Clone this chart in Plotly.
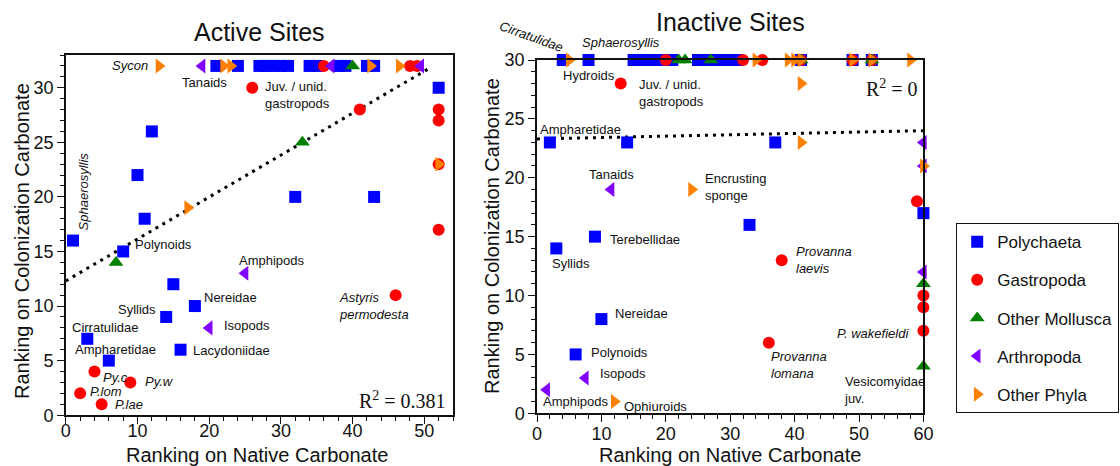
import plotly.graph_objects as go

W, H = 1120, 466
FONT = "Arial, Liberation Sans, Helvetica, sans-serif"
SERIF = "Times New Roman, Liberation Serif, serif"
INK = "#111111"

GROUPS = ["Polychaeta", "Gastropoda", "Other Mollusca", "Arthropoda", "Other Phyla"]

# ---- Active sites: rank on native carbonate (x) vs colonization carbonate (y)
active_polychaeta_x = [21, 24, 27, 28, 29, 30, 31, 34, 35, 38, 39, 42, 43,
                       52, 12, 10, 11, 1, 8, 32, 43, 15, 18, 14, 3, 16, 6]
active_polychaeta_y = [32, 32, 32, 32, 32, 32, 32, 32, 32, 32, 32, 32, 32,
                       30, 26, 22, 18, 16, 15, 20, 20, 12, 10, 9, 7, 6, 5]
active_gastropoda_x = [36, 48, 49, 26, 41, 52, 52, 52, 52, 46, 4, 9, 2, 5]
active_gastropoda_y = [32, 32, 32, 30, 28, 28, 27, 23, 17, 11, 4, 3, 2, 1]
active_mollusca_x = [40, 33, 7]
active_mollusca_y = [32, 25, 14]
active_arthropoda_x = [19, 37, 49.5, 25, 20]
active_arthropoda_y = [32, 32, 32, 13, 8]
active_other_x = [13, 22, 23, 42.5, 46.5, 52, 17]
active_other_y = [32, 32, 32, 32, 32, 23, 19]

# ---- Inactive sites
inactive_polychaeta_x = [4, 8, 15, 16, 17, 18, 19, 20, 21, 25, 26, 27, 28, 29, 30, 31,
                         41, 49, 52, 2, 14, 37, 60, 33, 9, 3, 10, 6]
inactive_polychaeta_y = [30, 30, 30, 30, 30, 30, 30, 30, 30, 30, 30, 30, 30, 30, 30, 30,
                         30, 30, 30, 23, 23, 23, 17, 16, 15, 14, 8, 5]
inactive_gastropoda_x = [20, 32, 35, 41, 49, 52, 13, 59, 38, 60, 60, 60, 36]
inactive_gastropoda_y = [30, 30, 30, 30, 30, 30, 28, 18, 13, 10, 9, 7, 6]
inactive_mollusca_x = [22, 23, 27, 41, 52, 60, 60]
inactive_mollusca_y = [30, 30, 30, 30, 30, 11, 4]
inactive_arthropoda_x = [60, 60, 11.5, 60, 7.5, 1.5]
inactive_arthropoda_y = [23, 21, 19, 12, 3, 2]
inactive_other_x = [5, 34, 39, 40, 41, 49, 52, 58, 41, 41, 60, 24, 12]
inactive_other_y = [30, 30, 30, 30, 30, 30, 30, 30, 28, 23, 21, 19, 1]

# ---- Linear fits (end points)
fit_active_x = [0, 51]
fit_active_y = [12.3, 31.9]
fit_inactive_x = [0, 60]
fit_inactive_y = [23.3, 24.0]

r2_active = "0.381"
r2_inactive = "0"

active = {
    "Polychaeta": (active_polychaeta_x, active_polychaeta_y),
    "Gastropoda": (active_gastropoda_x, active_gastropoda_y),
    "Other Mollusca": (active_mollusca_x, active_mollusca_y),
    "Arthropoda": (active_arthropoda_x, active_arthropoda_y),
    "Other Phyla": (active_other_x, active_other_y),
}
inactive = {
    "Polychaeta": (inactive_polychaeta_x, inactive_polychaeta_y),
    "Gastropoda": (inactive_gastropoda_x, inactive_gastropoda_y),
    "Other Mollusca": (inactive_mollusca_x, inactive_mollusca_y),
    "Arthropoda": (inactive_arthropoda_x, inactive_arthropoda_y),
    "Other Phyla": (inactive_other_x, inactive_other_y),
}

STYLE = {
    "Polychaeta": dict(symbol="square", color="#0000ff", size=12),
    "Gastropoda": dict(symbol="circle", color="#ff0000", size=12),
    "Other Mollusca": dict(symbol="triangle-up", color="#008000", size=13),
    "Arthropoda": dict(symbol="triangle-left", color="#8000ff", size=13),
    "Other Phyla": dict(symbol="triangle-right", color="#ff8000", size=13),
}

fig = go.Figure()

# dotted regression lines underneath the markers
fig.add_trace(go.Scatter(x=fit_active_x, y=fit_active_y, mode="lines", showlegend=False,
                         line=dict(color="black", width=3, dash="3px,5px"),
                         xaxis="x", yaxis="y", hoverinfo="skip"))
fig.add_trace(go.Scatter(x=fit_inactive_x, y=fit_inactive_y, mode="lines", showlegend=False,
                         line=dict(color="black", width=3, dash="3px,5px"),
                         xaxis="x2", yaxis="y2", hoverinfo="skip"))

for data, xa, ya, show in [(active, "x", "y", True), (inactive, "x2", "y2", False)]:
    for g in GROUPS:
        xs, ys = data[g]
        st = STYLE[g]
        fig.add_trace(go.Scatter(
            x=xs, y=ys, mode="markers", name=g, legendgroup=g, showlegend=show,
            marker=dict(symbol=st["symbol"], color=st["color"], size=st["size"],
                        line=dict(width=0)),
            cliponaxis=False, xaxis=xa, yaxis=ya))


def px_x(p):
    return p / W


def px_y(p):
    return 1 - p / H


axis_common = dict(
    showline=True, linecolor=INK, linewidth=1.5, mirror=True,
    ticks="outside", ticklen=7, tickwidth=1.2, tickcolor=INK,
    showgrid=False, zeroline=False, automargin=False, fixedrange=True,
    tickfont=dict(family=FONT, size=18, color=INK),
)
minor_x = dict(dtick=2, ticklen=4, tickwidth=1, tickcolor=INK, ticks="outside", showgrid=False)
minor_y = dict(dtick=1, ticklen=4, tickwidth=1, tickcolor=INK, ticks="outside", showgrid=False)

fig.update_layout(
    width=W, height=H, margin=dict(l=0, r=0, t=0, b=0),
    paper_bgcolor="white", plot_bgcolor="white",
    font=dict(family=FONT, color=INK),
    xaxis=dict(domain=[px_x(65.8), px_x(453)], range=[0, 54], tick0=0, dtick=10,
               minor=minor_x, anchor="y", ticklabelstandoff=-9, **axis_common),
    yaxis=dict(domain=[px_y(415.2), px_y(55)], range=[0, 33], tick0=0, dtick=5,
               minor=minor_y, anchor="x", **axis_common),
    xaxis2=dict(domain=[px_x(537), px_x(923.4)], range=[0, 60], tick0=0, dtick=10,
                minor=minor_x, anchor="y2", ticklabelstandoff=-4, **axis_common),
    yaxis2=dict(domain=[px_y(413.3), px_y(60)], range=[0, 30], tick0=0, dtick=5,
                minor=minor_y, anchor="x2", **axis_common),
    legend=dict(x=px_x(956), y=px_y(223), xanchor="left", yanchor="top",
                bordercolor=INK, borderwidth=1.2, bgcolor="white",
                font=dict(family=FONT, size=17, color=INK),
                tracegroupgap=13, itemwidth=30),
    showlegend=True,
)

ann = []


def paper_text(text, x, y, size, angle=0, family=FONT):
    ann.append(dict(text=text, x=px_x(x), y=px_y(y), xref="paper", yref="paper",
                    xanchor="center", yanchor="middle",
                    showarrow=False, textangle=angle,
                    font=dict(family=family, size=size, color=INK)))


paper_text("Active Sites", 259, 32, 25)
paper_text("Inactive Sites", 730, 22, 25)
paper_text("Ranking on Native Carbonate", 257, 455, 20)
paper_text("Ranking on Native Carbonate", 730, 455, 20)
paper_text("Ranking on Colonization Carbonate", 22, 241, 20, angle=-90)
paper_text("Ranking on Colonization Carbonate", 492, 236, 20, angle=-90)
# labels sitting above the top frame of the inactive panel
paper_text("<i>Cirratulidae</i>", 531, 37, 13, angle=20)
paper_text("<i>Sphaerosyllis</i>", 621, 43, 13)

active_labels = [
    ("<i>Sycon</i>", 11.7, 32.0, "right", 0),
    ("Tanaids", 19.3, 30.5, "center", 0),
    ("Juv. / unid.<br>gastropods", 27.5, 29.3, "left", 0),
    ("<i>Sphaerosyllis</i>", 2.4, 20.5, "center", -90),
    ("Polynoids", 9.4, 15.6, "left", 0),
    ("Amphipods", 28.7, 14.2, "center", 0),
    ("Nereidae", 19.0, 10.8, "left", 0),
    ("Syllids", 12.9, 9.7, "right", 0),
    ("Isopods", 21.8, 8.2, "left", 0),
    ("Cirratulidae", 5.5, 8.0, "center", 0),
    ("Ampharetidae", 6.9, 6.0, "center", 0),
    ("Lacydoniidae", 17.4, 5.9, "left", 0),
    ("<i>Py.c</i>", 4.9, 3.5, "left", 0),
    ("<i>Py.w</i>", 10.7, 3.1, "left", 0),
    ("<i>P.lom</i>", 3.1, 2.2, "left", 0),
    ("<i>P.lae</i>", 6.6, 1.0, "left", 0),
    ("<i>Astyris</i><br><i>permodesta</i>", 37.8, 10.0, "left", 0),
]
inactive_labels = [
    ("Hydroids", 8.0, 28.7, "center", 0),
    ("Juv. / unid.<br>gastropods", 15.6, 27.2, "left", 0),
    ("Ampharetidae", 6.7, 24.1, "center", 0),
    ("Tanaids", 11.6, 20.3, "center", 0),
    ("Encrusting<br>sponge", 25.8, 19.2, "left", 0),
    ("Terebellidae", 11.1, 14.8, "left", 0),
    ("Syllids", 5.3, 12.7, "center", 0),
    ("<i>Provanna</i><br><i>laevis</i>", 39.9, 13.06, "left", 0),
    ("Nereidae", 11.75, 8.5, "left", 0),
    ("Polynoids", 8.0, 5.15, "left", 0),
    ("Isopods", 9.4, 3.4, "left", 0),
    ("Amphipods", 0.6, 0.96, "left", 0),
    ("Ophiuroids", 13.15, 0.6, "left", 0),
    ("<i>Provanna</i><br><i>lomana</i>", 36.1, 4.1, "left", 0),
    ("<i>P. wakefieldi</i>", 58.0, 6.8, "right", 0),
    ("Vesicomyidae<br>juv.", 47.3, 2.0, "left", 0),
]

for labels, xr, yr in [(active_labels, "x", "y"), (inactive_labels, "x2", "y2")]:
    for text, x, y, anchor, angle in labels:
        ann.append(dict(text=text, x=x, y=y, xref=xr, yref=yr, xanchor=anchor,
                        yanchor="middle", align=anchor,
                        textangle=angle, showarrow=False,
                        font=dict(family=FONT, size=13, color=INK)))

ann.append(dict(text="R<sup>2</sup> = " + r2_active, x=53.3, y=1.4, xref="x", yref="y",
                xanchor="right", yanchor="middle", showarrow=False,
                font=dict(family=SERIF, size=20, color=INK)))
ann.append(dict(text="R<sup>2</sup> = " + r2_inactive, x=59.5, y=27.6, xref="x2", yref="y2",
                xanchor="right", yanchor="middle", showarrow=False,
                font=dict(family=SERIF, size=20, color=INK)))

fig.update_layout(annotations=ann)

fig.write_html("out.html")
